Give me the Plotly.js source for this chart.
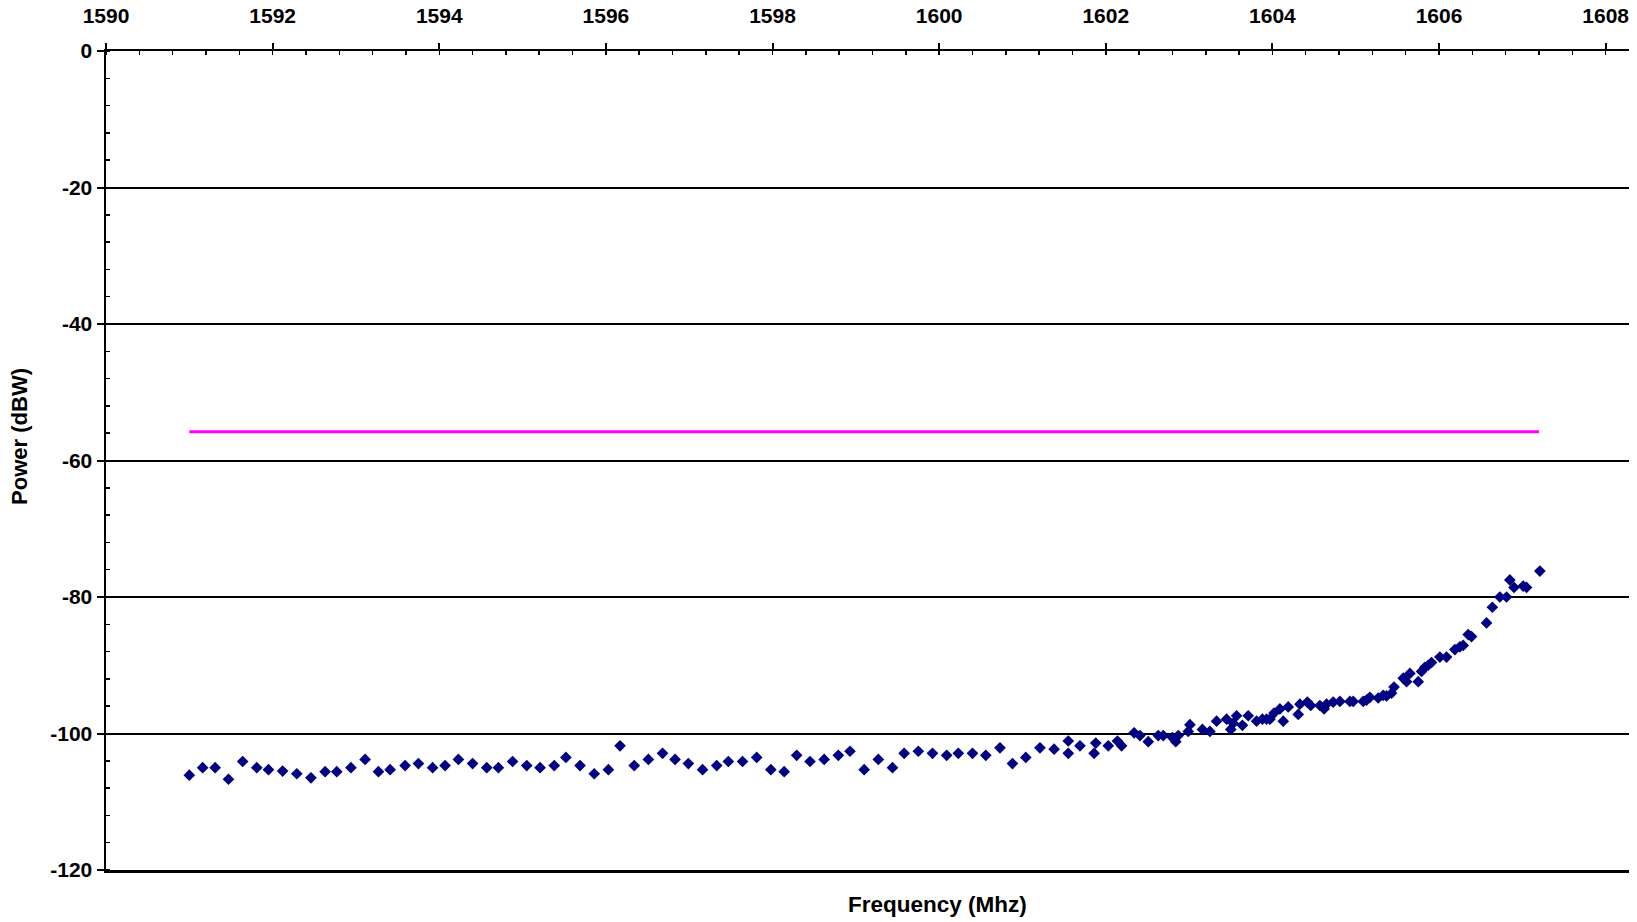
<!DOCTYPE html>
<html>
<head>
<meta charset="utf-8">
<script src="https://cdn.plot.ly/plotly-3.0.1.min.js"></script>
<style>
html,body{margin:0;padding:0;background:#fff;}
#chart{width:1637px;height:922px;}
</style>
</head>
<body>
<div id="chart"></div>
<script>
// Measured spectrum (frequency in MHz, power in dBW)
const freq = [
1591.00,1591.16,1591.31,1591.47,1591.64,1591.81,1591.95,1592.12,1592.29,1592.46,1592.63,1592.77,1592.94,1593.11,1593.27,1593.41,1593.59,1593.75,1593.92,1594.07,1594.23,
1594.40,1594.57,1594.71,1594.88,1595.05,1595.21,1595.38,1595.52,1595.69,1595.86,1596.03,1596.17,1596.34,1596.51,1596.68,1596.83,1596.99,1597.16,1597.33,1597.47,
1597.64,1597.81,1597.98,1598.14,1598.29,1598.45,1598.62,1598.79,1598.93,1599.10,1599.27,1599.44,1599.58,1599.75,1599.92,1600.09,1600.23,1600.40,1600.56,1600.73,1600.88,
1601.04,1601.21,1601.38,1601.55,1601.55,1601.69,1601.86,1601.88,1602.03,1602.14,1602.19,1602.34,1602.41,1602.51,1602.63,1602.69,1602.80,1602.84,1602.87,1602.99,1603.01,1603.16,1603.25,1603.33,1603.45,1603.50,1603.53,1603.57,1603.64,1603.71,
1603.81,1603.88,1603.93,1603.97,1604.02,1604.09,1604.13,1604.19,1604.31,1604.33,1604.42,1604.46,1604.57,1604.62,1604.65,1604.73,1604.81,1604.93,1604.97,1605.09,1605.13,1605.17,1605.27,1605.33,1605.37,1605.43,1605.46,
1605.57,1605.61,1605.65,1605.75,1605.79,1605.83,1605.87,1605.91,1606.01,1606.09,1606.19,1606.25,1606.29,1606.35,1606.39,1606.57,1606.64,1606.73,1606.81,1606.85,1606.90,1607.01,1607.05,1607.21
];
const power = [
-106.1,-105.0,-105.0,-106.7,-104.1,-105.0,-105.3,-105.5,-105.9,-106.5,-105.6,-105.6,-105.0,-103.8,-105.6,-105.3,-104.7,-104.4,-105.0,-104.7,-103.8,
-104.4,-105.0,-105.0,-104.1,-104.7,-105.0,-104.7,-103.5,-104.7,-105.9,-105.3,-101.8,-104.7,-103.8,-102.9,-103.8,-104.4,-105.3,-104.7,-104.1,
-104.1,-103.5,-105.3,-105.6,-103.2,-104.1,-103.8,-103.2,-102.6,-105.3,-103.8,-105.0,-102.9,-102.6,-102.9,-103.2,-102.9,-102.9,-103.2,-102.1,-104.4,
-103.5,-102.1,-102.3,-101.1,-102.9,-101.8,-102.9,-101.4,-101.8,-101.1,-101.8,-99.9,-100.3,-101.2,-100.3,-100.3,-100.6,-101.2,-100.3,-99.7,-98.7,-99.4,-99.7,-98.2,-97.9,-99.4,-98.5,-97.4,-98.8,-97.4,
-98.2,-97.9,-97.9,-97.9,-97.0,-96.4,-98.2,-96.1,-97.2,-95.7,-95.4,-95.9,-95.9,-96.4,-95.7,-95.4,-95.3,-95.3,-95.3,-95.3,-95.1,-94.7,-94.8,-94.4,-94.5,-94.1,-93.2,
-91.9,-92.4,-91.2,-92.4,-90.9,-90.3,-90.0,-89.6,-88.8,-88.8,-87.7,-87.3,-87.1,-85.5,-85.8,-83.8,-81.5,-80.0,-80.0,-77.5,-78.6,-78.4,-78.6,-76.2
];
// Limit line
const limitFreq = [1591.0, 1607.2];
const limitPower = [-55.8, -55.8];

// Axis ticks
const yTickVals = [-120, -100, -80, -60, -40, -20, 0];
const yTickText = ["-120", "-100", "-80", "-60", "-40", "-20", "0"];

const xTitle = "Frequency (Mhz)";
const yTitle = "Power (dBW)";
const xRange = [1590, 1608.28];
const yRange = [-120, 0];

const FONT = "Arial, 'Liberation Sans', sans-serif";
const tickFont = {family: FONT, size: 21, color: '#000', weight: 'bold'};

const traces = [
  {
    x: limitFreq, y: limitPower, type: 'scatter', mode: 'lines',
    line: {color: '#FF00FF', width: 3}, hoverinfo: 'skip', showlegend: false
  },
  {
    x: freq, y: power, type: 'scatter', mode: 'markers',
    marker: {symbol: 'diamond', size: 9, color: '#000080', line: {width: 0}},
    showlegend: false
  }
];

const layout = {
  width: 1637, height: 922,
  margin: {l: 106, r: 8, t: 51, b: 52},
  paper_bgcolor: '#fff', plot_bgcolor: '#fff',
  showlegend: false,
  xaxis: {
    side: 'top', range: xRange, dtick: 2, tick0: 1590,
    showgrid: false, zeroline: false,
    showline: true, linecolor: '#000', linewidth: 2.5, mirror: true,
    ticks: 'outside', ticklen: 6, tickwidth: 2, tickcolor: '#000',
    ticklabelstandoff: 11,
    minor: {dtick: 0.4, tick0: 1590, ticks: 'inside', ticklen: 4, tickwidth: 1.5, tickcolor: '#000', showgrid: false},
    tickfont: tickFont
  },
  xaxis2: {
    overlaying: 'x', side: 'top', range: xRange, dtick: 2, tick0: 1590,
    showgrid: false, zeroline: false, showline: false, showticklabels: false,
    ticks: 'inside', ticklen: 6, tickwidth: 2, tickcolor: '#000'
  },
  yaxis: {
    range: yRange, tickmode: 'array', tickvals: yTickVals, ticktext: yTickText,
    showgrid: true, gridcolor: '#000', gridwidth: 2,
    zeroline: false,
    showline: true, linecolor: '#000', linewidth: 2.5,
    ticks: 'outside', ticklen: 7, tickwidth: 2, tickcolor: '#000',
    ticklabelstandoff: 0,
    minor: {dtick: 4, tick0: 0, ticks: 'inside', ticklen: 4, tickwidth: 1.5, tickcolor: '#000', showgrid: false},
    tickfont: tickFont
  },
  annotations: [
    {text: xTitle, xref: 'paper', yref: 'paper', x: 0.546, y: -0.042, yanchor: 'middle', xanchor: 'center',
     showarrow: false, font: {family: FONT, size: 22.5, color: '#000', weight: 'bold'}},
    {text: yTitle, xref: 'paper', yref: 'paper', x: -0.0565, y: 0.530, xanchor: 'center', yanchor: 'middle',
     textangle: -90, showarrow: false, font: {family: FONT, size: 22, color: '#000', weight: 'bold'}}
  ]
};

Plotly.newPlot('chart', traces, layout, {displayModeBar: false, staticPlot: true});
</script>
</body>
</html>
